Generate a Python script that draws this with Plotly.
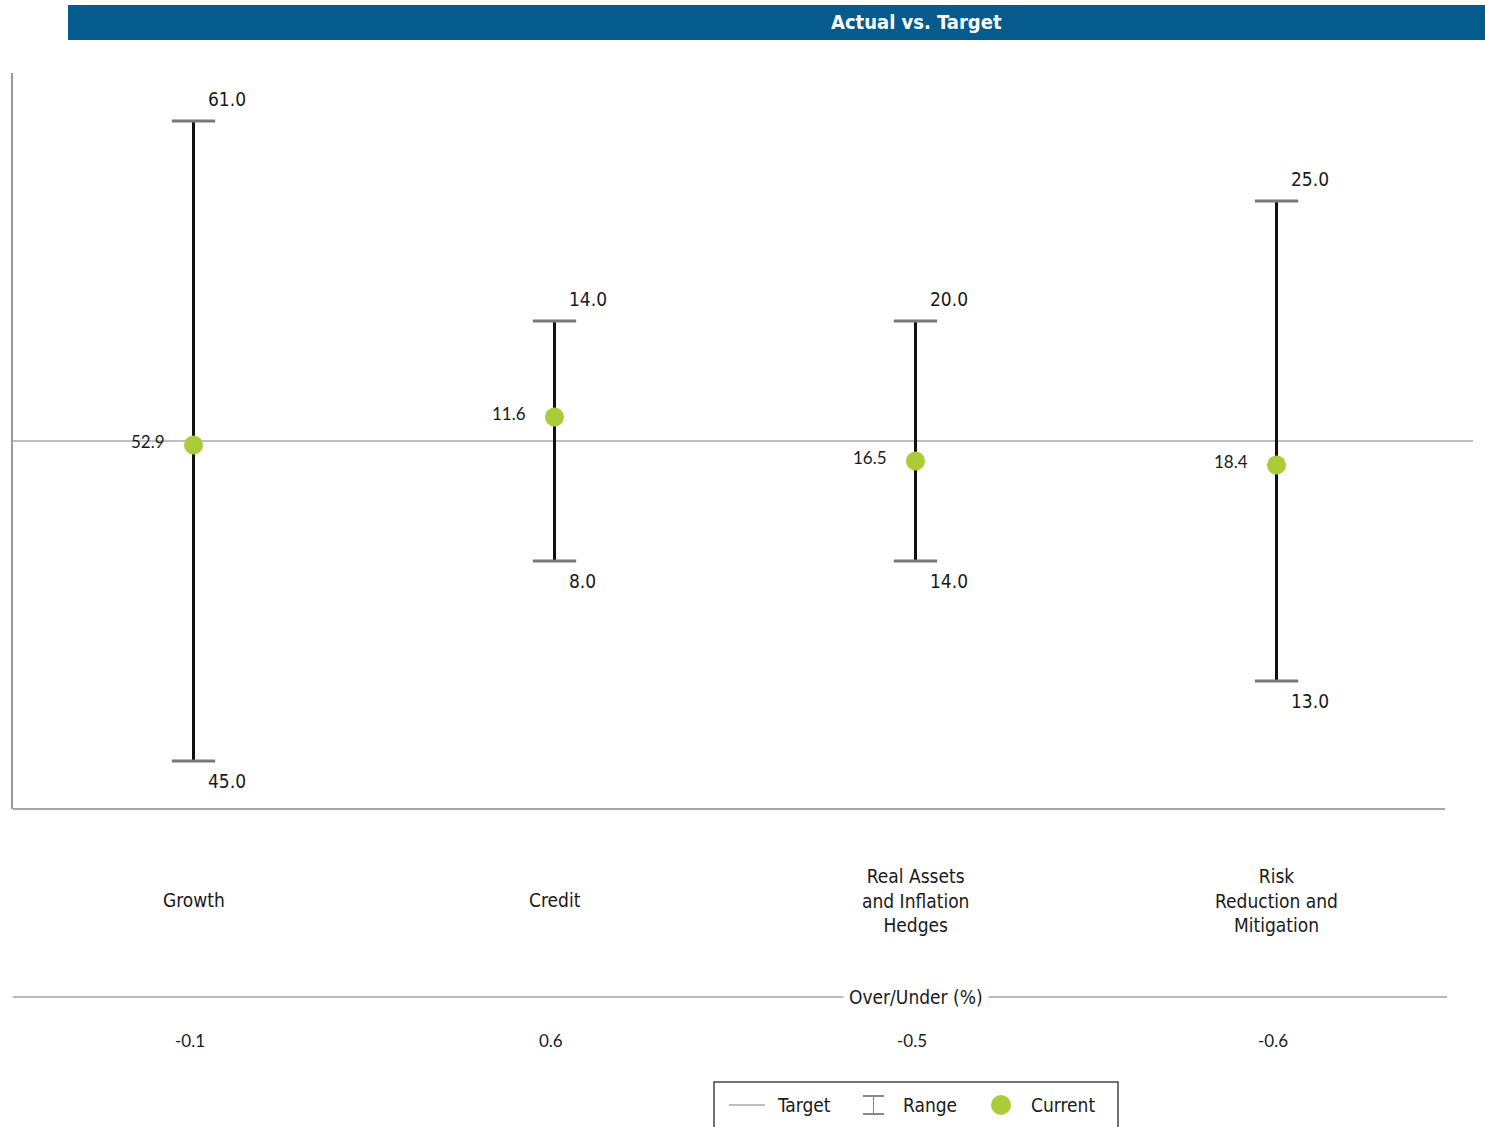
import plotly.graph_objects as go

# Asset class allocation: policy ranges, targets and current weights (%)
categories = ["Growth", "Credit", "Real Assets<br>and Inflation<br>Hedges", "Risk<br>Reduction and<br>Mitigation"]
range_min = [45.0, 8.0, 14.0, 13.0]
range_max = [61.0, 14.0, 20.0, 25.0]
target = [53.0, 11.0, 17.0, 19.0]
current = [52.9, 11.6, 16.5, 18.4]

W, H = 1485, 1127
L, R, T, B = 13, 28, 73, 318
PW, PH = W - L - R, H - T - B


def px_x(px):
    return (px - L) / PW


def px_y(py):
    return (H - B - py) / PH


NARROW = "Liberation Sans Narrow, Arial Narrow, DejaVu Sans Condensed, sans-serif"
ROUND = "Lato, Noto Sans, sans-serif"
GREEN = "#a9cc38"
CAP = "#7a7a7a"
TXT = "#1a1a1a"

xs = list(range(len(categories)))
# everything is plotted as the deviation from each category's target
dev_min = [lo - t for lo, t in zip(range_min, target)]
dev_max = [hi - t for hi, t in zip(range_max, target)]
dev_cur = [c - t for c, t in zip(current, target)]
over_under = [round(c - t, 1) for c, t in zip(current, target)]

fig = go.Figure()

# vertical range bars
line_x, line_y = [], []
for x, lo, hi in zip(xs, dev_min, dev_max):
    line_x += [x, x, None]
    line_y += [lo, hi, None]
fig.add_trace(go.Scatter(x=line_x, y=line_y, mode="lines",
                         line=dict(color="#111111", width=3), hoverinfo="skip"))

# range caps
fig.add_trace(go.Scatter(x=xs + xs, y=dev_min + dev_max, mode="markers",
                         marker=dict(symbol="line-ew", size=31,
                                     line=dict(color=CAP, width=3)),
                         hoverinfo="skip"))

# current weights
fig.add_trace(go.Scatter(x=xs, y=dev_cur, mode="markers",
                         marker=dict(color=GREEN, size=19, line=dict(width=0)),
                         hoverinfo="skip"))

annotations = []
for x, lo, hi, dlo, dhi, c, dc in zip(xs, range_min, range_max, dev_min, dev_max, current, dev_cur):
    annotations.append(dict(x=x, y=dhi, text=f"{hi:.1f}", showarrow=False,
                            xanchor="left", yanchor="middle", xshift=12, yshift=22,
                            font=dict(family=NARROW, size=19, color=TXT)))
    annotations.append(dict(x=x, y=dlo, text=f"{lo:.1f}", showarrow=False,
                            xanchor="left", yanchor="middle", xshift=12, yshift=-20,
                            font=dict(family=NARROW, size=19, color=TXT)))
    annotations.append(dict(x=x, y=dc, text=f"{c:.1f}", showarrow=False,
                            xanchor="right", yanchor="middle", xshift=-27, yshift=4,
                            font=dict(family=ROUND, size=17, color=TXT)))

# category names under the plot
for x, name in zip(xs, categories):
    annotations.append(dict(x=x, xref="x", y=px_y(900), yref="paper", text=name,
                            showarrow=False, xanchor="center", yanchor="middle",
                            align="center",
                            font=dict(family=NARROW, size=19, color=TXT)))

# over/under row
annotations.append(dict(x=px_x(916), xref="paper", y=px_y(997), yref="paper",
                        text="Over/Under (%)", showarrow=False, xanchor="center",
                        yanchor="middle", bgcolor="white", borderpad=5,
                        font=dict(family=NARROW, size=19, color=TXT)))
for x, v in zip(xs, over_under):
    annotations.append(dict(x=x, xref="x", y=px_y(1040), yref="paper",
                            text=f"{v:.1f}", showarrow=False, xanchor="center",
                            yanchor="middle", xshift=-4,
                            font=dict(family=ROUND, size=17, color=TXT)))

# title
annotations.append(dict(x=px_x(916), xref="paper", y=px_y(22), yref="paper",
                        text="<b>Actual vs. Target</b>", showarrow=False,
                        xanchor="center", yanchor="middle",
                        font=dict(family=NARROW, size=20, color="white")))

# legend labels
for px, label in [(775, "Target"), (901, "Range"), (1029, "Current")]:
    annotations.append(dict(x=px_x(px), xref="paper", y=px_y(1105), yref="paper",
                            text=label, showarrow=False, xanchor="left",
                            yanchor="middle",
                            font=dict(family=NARROW, size=19, color=TXT)))

shapes = [
    # title bar
    dict(type="rect", xref="paper", yref="paper", x0=px_x(68), x1=px_x(1490),
         y0=px_y(40), y1=px_y(5), fillcolor="#045b8c", line=dict(width=0), layer="below"),
    # target line
    dict(type="line", xref="paper", yref="y", x0=0, x1=px_x(1473), y0=0, y1=0,
         line=dict(color="#a8a8a8", width=1.3), layer="below"),
    # bottom axis line
    dict(type="line", xref="paper", yref="paper", x0=0, x1=px_x(1445), y0=0, y1=0,
         line=dict(color="#888888", width=1.3)),
    # over/under rule
    dict(type="line", xref="paper", yref="paper", x0=0, x1=px_x(1447),
         y0=px_y(997), y1=px_y(997), line=dict(color="#777777", width=1.2), layer="below"),
    # legend box
    dict(type="rect", xref="paper", yref="paper", x0=px_x(714), x1=px_x(1118),
         y0=px_y(1140), y1=px_y(1082), line=dict(color="#444444", width=1.5)),
    # legend: target swatch
    dict(type="line", xref="paper", yref="paper", x0=px_x(729), x1=px_x(765),
         y0=px_y(1105), y1=px_y(1105), line=dict(color="#aaaaaa", width=1.3)),
    # legend: range swatch
    dict(type="line", xref="paper", yref="paper", x0=px_x(863), x1=px_x(884),
         y0=px_y(1096), y1=px_y(1096), line=dict(color="#888888", width=2)),
    dict(type="line", xref="paper", yref="paper", x0=px_x(863), x1=px_x(884),
         y0=px_y(1114), y1=px_y(1114), line=dict(color="#888888", width=2)),
    dict(type="line", xref="paper", yref="paper", x0=px_x(873.5), x1=px_x(873.5),
         y0=px_y(1096), y1=px_y(1114), line=dict(color="#888888", width=1)),
    # legend: current swatch
    dict(type="circle", xref="paper", yref="paper", x0=px_x(991), x1=px_x(1011),
         y0=px_y(1115), y1=px_y(1095), fillcolor=GREEN, line=dict(width=0)),
]

fig.update_layout(
    width=W, height=H,
    margin=dict(l=L, r=R, t=T, b=B, pad=0),
    paper_bgcolor="white", plot_bgcolor="white",
    showlegend=False,
    xaxis=dict(range=[-0.5, 3.5], showgrid=False, zeroline=False, showline=False,
               showticklabels=False, ticks="", fixedrange=True),
    yaxis=dict(range=[-9.2, 9.2], showgrid=False, zeroline=False, showline=True,
               linecolor="#999999", linewidth=2, showticklabels=False, ticks="",
               fixedrange=True),
    annotations=annotations,
    shapes=shapes,
)

fig.write_html("out.html", config={"displayModeBar": False})
